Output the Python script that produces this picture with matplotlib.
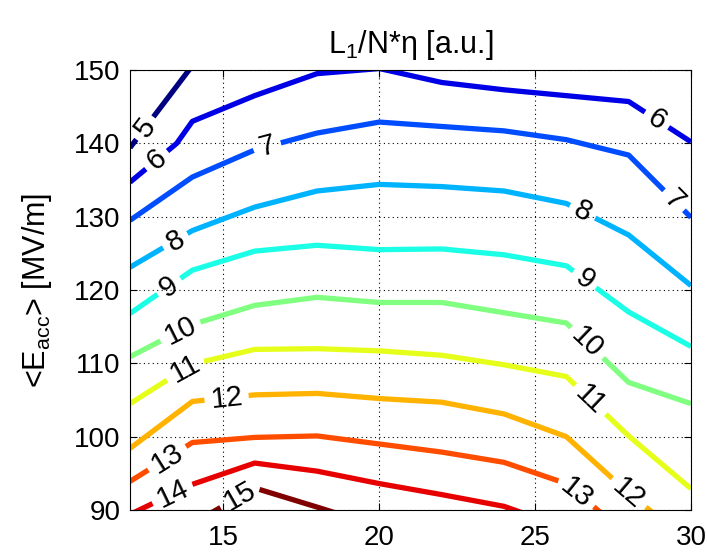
import numpy as np
import matplotlib
matplotlib.use("Agg")
import matplotlib.pyplot as plt
from matplotlib.contour import ContourSet

plt.rcParams['font.family'] = ['Liberation Sans', 'DejaVu Sans']
plt.rcParams['mathtext.fontset'] = 'custom'
plt.rcParams['mathtext.rm'] = 'Liberation Sans'
plt.rcParams['mathtext.it'] = 'Liberation Sans:italic'

levels = [5, 6, 7, 8, 9, 10, 11, 12, 13, 14, 15]
# jet-style colour per level
level_colors = ['#000080', '#0000e6', '#004cff', '#00b3ff', '#1affe6', '#80ff80',
                '#e6ff1a', '#ffb300', '#ff4d00', '#e60000', '#800000']

# iso-lines of L1/N*eta, x = cell parameter, y = <Eacc> in MV/m
xg = [12, 14, 16, 18, 20, 22, 24, 26, 28, 30]

c5_x = [12, 14]
c5_y = [139.4, 150.6]
c6_x = [12, 13.5, 14, 16, 18, 20, 22, 24, 26, 28, 30]
c6_y = [134.7, 140.0, 143.0, 146.5, 149.5, 150.2, 148.3, 147.3, 146.5, 145.7, 140.2]
c7_y = [129.5, 135.4, 139.1, 141.4, 142.9, 142.3, 141.7, 140.5, 138.4, 129.9]
c8_y = [123.1, 128.1, 131.3, 133.5, 134.4, 134.1, 133.5, 131.8, 127.5, 120.6]
c9_y = [116.8, 122.7, 125.3, 126.1, 125.5, 125.6, 124.8, 123.3, 117.0, 112.3]
c10_y = [110.9, 115.3, 117.9, 119.0, 118.3, 118.3, 116.9, 115.5, 107.4, 104.5]
c11_y = [104.5, 109.9, 111.9, 112.0, 111.7, 111.1, 109.8, 108.2, 100.1, 92.9]
c12_x = [12, 14, 16, 18, 20, 22, 24, 26, 28, 28.9]
c12_y = [98.4, 104.8, 105.7, 105.9, 105.2, 104.7, 103.1, 100.0, 92.3, 89.2]
c13_x = [12, 14, 16, 18, 20, 22, 24, 26, 27.2]
c13_y = [93.9, 99.2, 99.9, 100.1, 99.0, 97.9, 96.5, 93.6, 89.3]
c14_x = [12.1, 14, 16, 18, 20, 22, 24, 24.6]
c14_y = [89.6, 93.5, 96.4, 95.3, 93.6, 92.1, 90.5, 89.6]
c15_x = [14.6, 16, 18, 18.6]
c15_y = [89.6, 93.0, 90.4, 89.6]

lines = [(c5_x, c5_y), (c6_x, c6_y), (xg, c7_y), (xg, c8_y), (xg, c9_y),
         (xg, c10_y), (xg, c11_y), (c12_x, c12_y), (c13_x, c13_y),
         (c14_x, c14_y), (c15_x, c15_y)]

# where the inline level labels sit
label_pos = [(12.5, 142.0),
             (12.9, 137.5), (28.9, 143.2),
             (16.4, 139.6), (29.4, 132.0),
             (13.5, 126.4), (26.5, 130.5),
             (13.35, 119.9), (26.6, 121.5),
             (13.6, 114.5), (26.66, 112.8),
             (13.73, 109.4), (26.7, 104.7),
             (15.1, 105.2), (28.0, 92.3),
             (13.2, 97.0), (26.3, 92.2),
             (13.35, 92.3),
             (15.5, 92.0)]

fig = plt.figure(figsize=(7.07, 5.53), dpi=100)
ax = fig.add_axes([130 / 707, 43 / 553, 561 / 707, 440 / 553])

allsegs = [[np.column_stack([lx, ly])] for lx, ly in lines]
cs = ContourSet(ax, levels, allsegs, colors=level_colors, linewidths=3.8)

ax.set_xlim(12, 30)
ax.set_ylim(90, 150)
ax.set_xticks([15, 20, 25, 30])
ax.set_yticks(range(90, 151, 10))

ax.clabel(cs, manual=label_pos, inline=True, inline_spacing=6,
          fontsize=21, fmt='%d', colors='k')

ax.grid(True, linestyle=(0, (1, 3)), color='k', linewidth=0.8)
ax.set_axisbelow(True)
ax.tick_params(direction='in', top=True, right=True, length=5,
               labelsize=20, pad=7)
ax.tick_params(axis='x', pad=11)
for s in ax.spines.values():
    s.set_linewidth(0.8)

ax.set_title(r'L$_1$/N*η [a.u.]', fontsize=22, pad=12)
ax.set_ylabel(r'<E$_{\rm acc}$> [MV/m]', fontsize=22, labelpad=14)

fig.savefig('out.png', dpi=100)
